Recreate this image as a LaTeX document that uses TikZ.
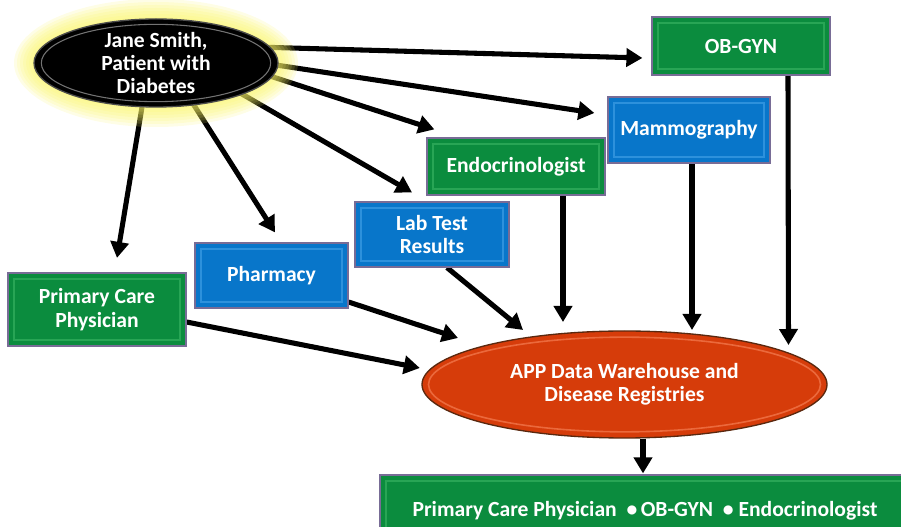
\documentclass[tikz,border=0pt]{standalone}
\usepackage{fontspec}
\setmainfont{Carlito}
\usetikzlibrary{shapes.geometric,arrows.meta,calc}
\definecolor{gfill}{RGB}{11,140,62}
\definecolor{gin}{RGB}{40,165,85}
\definecolor{bfill}{RGB}{8,118,202}
\definecolor{bin}{RGB}{45,145,220}
\definecolor{edgec}{RGB}{120,108,150}
\definecolor{ofill}{RGB}{214,60,10}
\definecolor{oin}{RGB}{235,105,60}
\definecolor{oedge}{RGB}{90,40,15}
\definecolor{glowc}{RGB}{250,245,100}
\pgfdeclarelayer{arrowlayer}
\pgfdeclarelayer{glowlayer}
\pgfsetlayers{arrowlayer,glowlayer,main}
\tikzset{
  lbl/.style={text=white,font=\fontsize{16.2}{17.5}\selectfont\bfseries,align=center},
  boxbase/.style={lbl,rectangle,draw=edgec,line width=0.9pt,inner sep=0pt},
  gbox/.style={boxbase,fill=gfill,
    path picture={\draw[gin,line width=1.2pt] ([shift={(4.5pt,4.5pt)}]path picture bounding box.south west) rectangle ([shift={(-4.5pt,-4.5pt)}]path picture bounding box.north east);}},
  bbox/.style={boxbase,fill=bfill,
    path picture={\draw[bin,line width=1.2pt] ([shift={(4.5pt,4.5pt)}]path picture bounding box.south west) rectangle ([shift={(-4.5pt,-4.5pt)}]path picture bounding box.north east);}},
  arr/.style={line width=3.8pt,-{Triangle[length=12pt,width=13.5pt]}},
}
\begin{document}
\begin{tikzpicture}[x=0.75pt,y=-0.75pt]
\useasboundingbox (0,0) rectangle (901,527);
% nodes
\node[lbl,ellipse,fill=black,draw=black!70,line width=1pt,minimum width=183pt,minimum height=66pt,inner sep=0pt,
  path picture={\draw[black!55,line width=0.8pt] (path picture bounding box.center) ellipse [x radius=86pt,y radius=29pt];}] (jane) at (156,63) {Jane Smith,\\Patient with\\Diabetes};
\node[gbox,minimum width=133.5pt,minimum height=43.5pt] (obgyn) at (741,46) {OB-GYN};
\node[bbox,minimum width=121.5pt,minimum height=49.5pt] (mamm) at (689,130) {Mammography};
\node[gbox,minimum width=133.5pt,minimum height=42.75pt] (endo) at (516,166.5) {Endocrinologist};
\node[bbox,minimum width=115.5pt,minimum height=48.75pt] (lab) at (432,234.5) {Lab Test\\Results};
\node[bbox,minimum width=114.75pt,minimum height=48.75pt] (pharm) at (271.5,275.5) {Pharmacy};
\node[gbox,minimum width=133.5pt,minimum height=54.75pt] (pcp) at (97,309.5) {Primary Care\\Physician};
\node[lbl,ellipse,fill=ofill,draw=oedge,line width=1pt,minimum width=303.75pt,minimum height=80.25pt,inner sep=0pt,
  path picture={\draw[oin,line width=1.2pt] (path picture bounding box.center) ellipse [x radius=147pt,y radius=35.5pt];}] (app) at (624.5,384.5) {APP Data Warehouse and\\Disease Registries};
\node[gbox,minimum width=397.5pt,minimum height=54pt] (bottom) at (645,511) {Primary Care Physician \ \textbullet\,OB-GYN \ \textbullet \ Endocrinologist};
% glow
\begin{pgfonlayer}{glowlayer}
\foreach \r in {20,17,14,11,8,5,2}{
  \fill[glowc,opacity=0.16] (jane.center) ellipse [x radius={91.5pt+\r*0.75pt},y radius={33pt+\r*0.75pt}];
}
\end{pgfonlayer}
% arrows
\begin{pgfonlayer}{arrowlayer}
\draw[arr] ($(jane.center)+(100,-16)$) -- ($(obgyn.west)+(-9,12)$);
\draw[arr] ($(jane.center)+(100,-1)$) -- ($(mamm.west)+(-13,-17)$);
\draw[arr] ($(jane.center)+(94,6.5)$) -- ($(endo.north west)+(8,-8)$);
\draw[arr] ($(jane.center)+(79,27)$) -- ($(lab.north)+(-20,-9)$);
\draw[arr] ($(jane.center)+(31.5,32)$) -- ($(pharm.north)+(3.5,-10)$);
\draw[arr] ($(jane.center)+(-12,32)$) -- ($(pcp.north)+(20,-14.5)$);
\draw[arr] ($(obgyn.south)+(47,0)$) -- ($(app.center)+(164,-39.5)$);
\draw[arr] ($(mamm.south)+(3,0)$) -- ($(app.center)+(67.5,-54.5)$);
\draw[arr] ($(endo.south)+(47,0)$) -- ($(app.center)+(-61.5,-62.5)$);
\draw[arr] ($(lab.south)+(15,0)$) -- ($(app.center)+(-101.5,-54.5)$);
\draw[arr] ($(pharm.east)+(0,26.5)$) -- ($(app.center)+(-166.5,-46.5)$);
\draw[arr] ($(pcp.east)+(0,12.5)$) -- ($(app.west)+(-1.5,-16.5)$);
\draw[arr] ($(app.south)+(18.5,0)$) -- ($(bottom.north)+(-2,-1)$);
\end{pgfonlayer}
\end{tikzpicture}
\end{document}
